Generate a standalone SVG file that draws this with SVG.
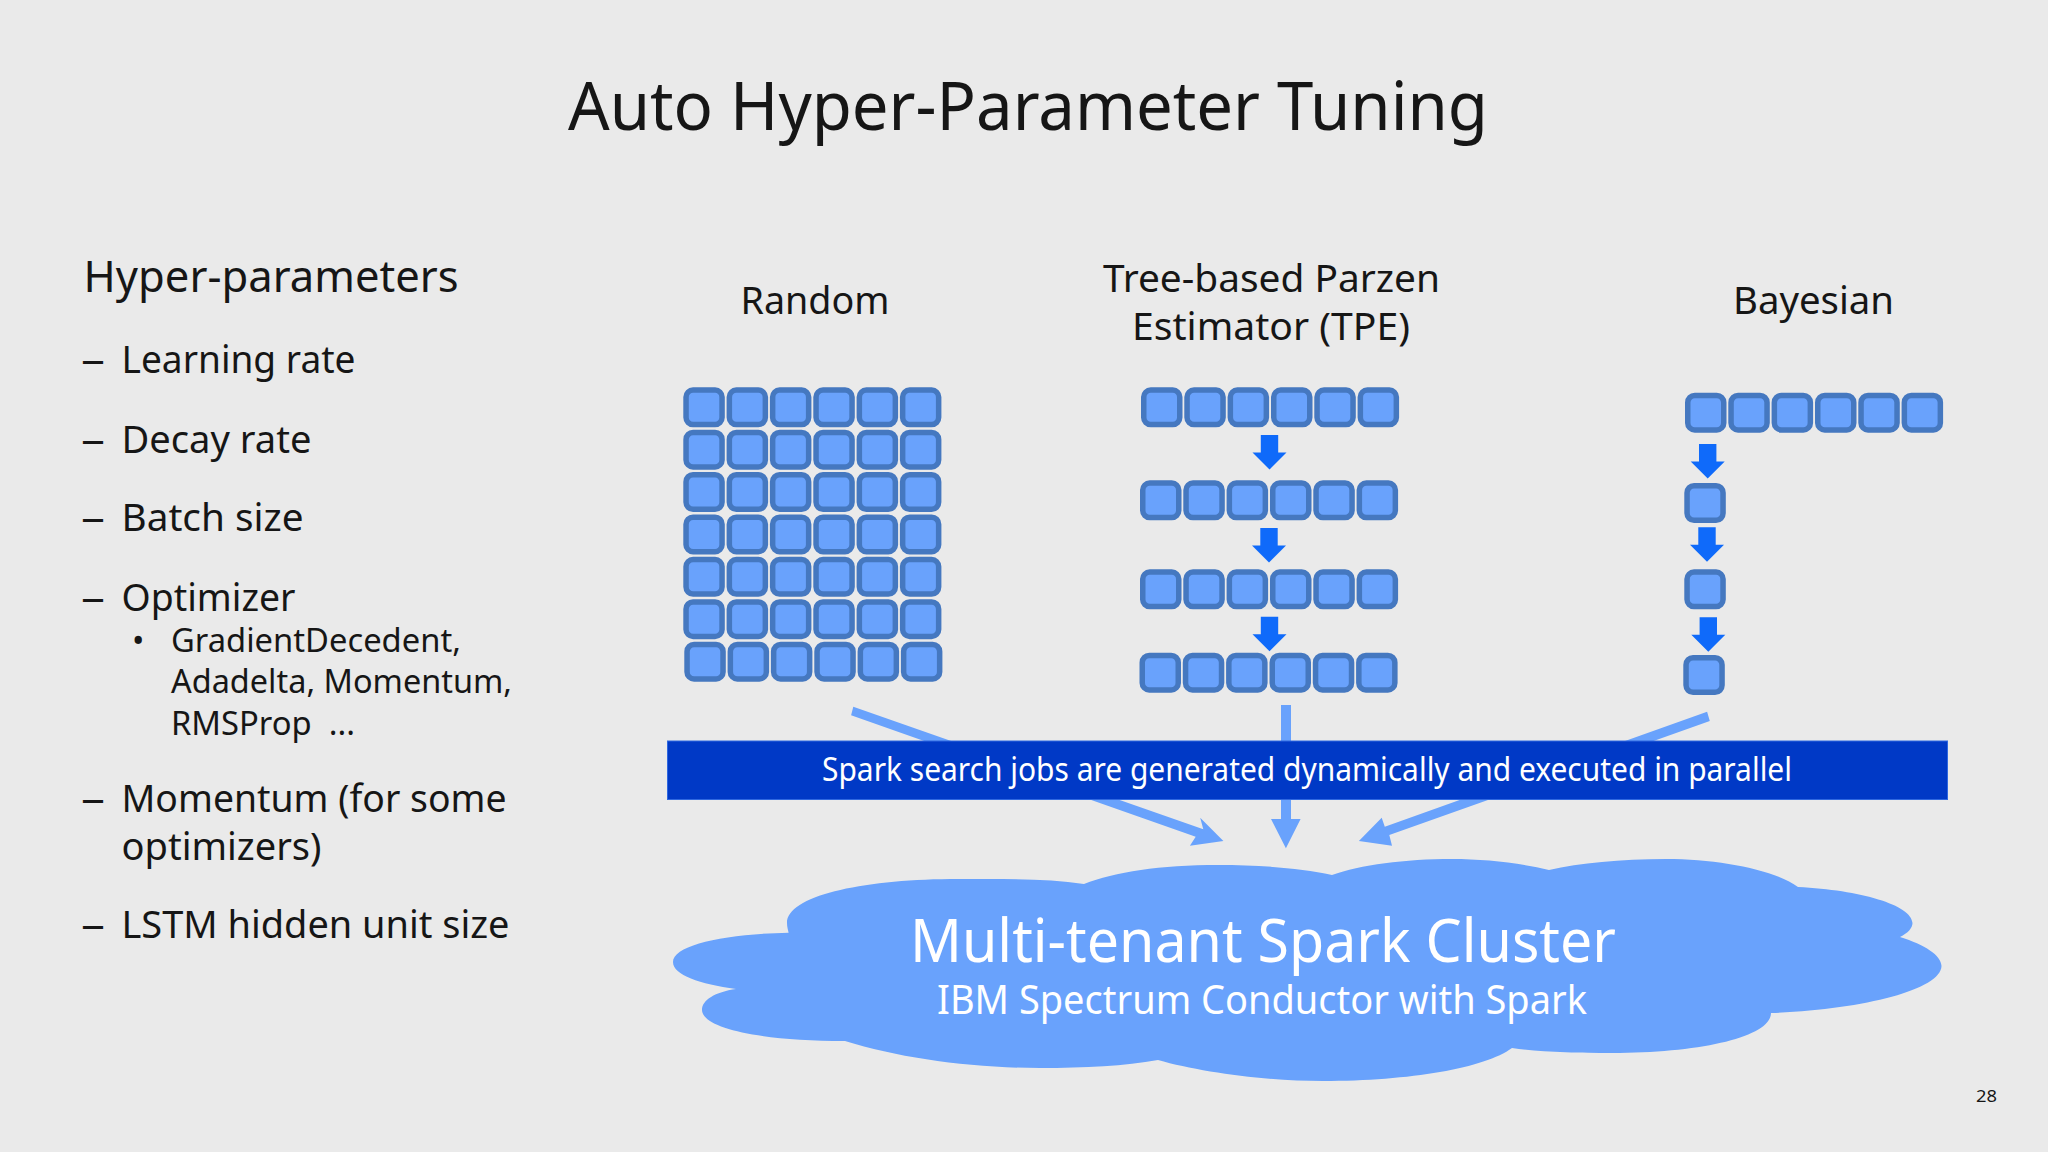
<svg xmlns="http://www.w3.org/2000/svg" xmlns:xlink="http://www.w3.org/1999/xlink" width="2048" height="1152" viewBox="0 0 2048 1152">
<style>
text{font-family:"Noto Sans","Open Sans","Liberation Sans",sans-serif;fill:#161616}
.cell{fill:#69a2fc;stroke:#4578c0;stroke-width:5.5}
.dark{fill:#0f6afa}
.light{fill:#69a2fc}
.w{fill:#fff}
.h{font-size:44px}
.t{font-size:38px}
.s{font-size:33px}
</style>
<defs>
<rect id="cell" class="cell" x="2.75" y="2.75" width="36" height="34.5" rx="7"/>
<g id="row">
<use href="#cell" x="0"/><use href="#cell" x="43.3"/><use href="#cell" x="86.6"/><use href="#cell" x="130"/><use href="#cell" x="173.3"/><use href="#cell" x="216.6"/>
</g>
<polygon id="down" class="dark" points="-8.7,0 8.7,0 8.7,17.5 17,17.5 0,34.5 -17,17.5 -8.7,17.5"/>
</defs>
<rect width="2048" height="1152" fill="#eaeaea"/>
<text id="title" x="568" y="130" font-size="68" textLength="920" lengthAdjust="spacingAndGlyphs">Auto Hyper-Parameter Tuning</text>
<g id="hyper-parameters">
<text class="h" x="83.6" y="292" textLength="375" lengthAdjust="spacingAndGlyphs">Hyper-parameters</text>
<text class="t" x="81" y="373" textLength="24" lengthAdjust="spacingAndGlyphs">–</text>
<text class="t" x="121.5" y="373" textLength="234" lengthAdjust="spacingAndGlyphs">Learning rate</text>
<text class="t" x="81" y="453" textLength="24" lengthAdjust="spacingAndGlyphs">–</text>
<text class="t" x="121.5" y="453" textLength="190" lengthAdjust="spacingAndGlyphs">Decay rate</text>
<text class="t" x="81" y="531" textLength="24" lengthAdjust="spacingAndGlyphs">–</text>
<text class="t" x="121.5" y="531" textLength="182" lengthAdjust="spacingAndGlyphs">Batch size</text>
<text class="t" x="81" y="611" textLength="24" lengthAdjust="spacingAndGlyphs">–</text>
<text class="t" x="121.5" y="611" textLength="174" lengthAdjust="spacingAndGlyphs">Optimizer</text>
<text class="s" x="132" y="652">•</text>
<text class="s" x="171" y="652" textLength="290" lengthAdjust="spacingAndGlyphs">GradientDecedent,</text>
<text class="s" x="171" y="693" textLength="341" lengthAdjust="spacingAndGlyphs">Adadelta, Momentum,</text>
<text class="s" x="171" y="735" textLength="184" lengthAdjust="spacingAndGlyphs" xml:space="preserve">RMSProp  ...</text>
<text class="t" x="81" y="812" textLength="24" lengthAdjust="spacingAndGlyphs">–</text>
<text class="t" x="121.5" y="812" textLength="385" lengthAdjust="spacingAndGlyphs">Momentum (for some</text>
<text class="t" x="121.5" y="860" textLength="200" lengthAdjust="spacingAndGlyphs">optimizers)</text>
<text class="t" x="81" y="938" textLength="24" lengthAdjust="spacingAndGlyphs">–</text>
<text class="t" x="121.5" y="938" textLength="388" lengthAdjust="spacingAndGlyphs">LSTM hidden unit size</text>
</g>
<g id="connectors">
<polygon class="light" points="853.3,706.7 1203.3,829.3 1200.2,817.7 1223.4,841 1189.9,845.7 1195.7,836.7 851.1,715.3"/>
<polygon class="light" points="1281,705 1291,705 1291,819 1300.6,819 1285.9,848.3 1271,819 1281,819"/>
<polygon class="light" points="1707.1,711.7 1384.8,826.7 1381.7,817.7 1358.9,841 1392,845.7 1389.3,835 1709.8,721"/>
<use href="#down" x="1269.5" y="435"/>
<use href="#down" x="1269" y="528"/>
<use href="#down" x="1269.5" y="616.7"/>
<use href="#down" x="1707.7" y="444"/>
<use href="#down" x="1707" y="527.3"/>
<use href="#down" x="1708.3" y="617.3"/>
</g>
<g id="random">
<text class="t" x="740.5" y="314" textLength="149" lengthAdjust="spacingAndGlyphs">Random</text>
<use href="#row" x="683.3" y="387.3"/>
<use href="#row" x="683.3" y="429.7"/>
<use href="#row" x="683.3" y="472"/>
<use href="#row" x="683.3" y="514.4"/>
<use href="#row" x="683.3" y="556.8"/>
<use href="#row" x="683.3" y="599.2"/>
<use href="#row" x="684.3" y="641.7"/>
</g>
<g id="tpe">
<text class="t" x="1103" y="292" textLength="337" lengthAdjust="spacingAndGlyphs">Tree-based Parzen</text>
<text class="t" x="1132" y="340" textLength="278" lengthAdjust="spacingAndGlyphs">Estimator (TPE)</text>
<use href="#row" x="1141" y="387.3"/>
<use href="#row" x="1140" y="480.3"/>
<use href="#row" x="1140" y="569.3"/>
<use href="#row" x="1139.5" y="652.7"/>
</g>
<g id="bayesian">
<text class="t" x="1733" y="314" textLength="161" lengthAdjust="spacingAndGlyphs">Bayesian</text>
<use href="#row" x="1685" y="392.7"/>
<use href="#cell" x="1684.3" y="483"/>
<use href="#cell" x="1684.3" y="569.3"/>
<use href="#cell" x="1683.3" y="655"/>
</g>
<g id="spark-bar">
<rect x="667.5" y="741" width="1280" height="58.5" fill="#0039c6" stroke="#2f68e0" stroke-width="1"/>
<text class="w" x="822" y="781" font-size="32" textLength="970" lengthAdjust="spacingAndGlyphs">Spark search jobs are generated dynamically and executed in parallel</text>
</g>
<g id="cluster">
<path class="light" d="M1084 884C1045 878 1000 879 950 879C860 880 787 896 787 923C787 927 788 930 788.6 932.7C725 934 673 945 673 962C673 975 700 984 736 989C715 992 702 1000 702 1010C702 1028 760 1041 845 1041C900 1058 970 1068 1040 1068C1085 1068 1125 1066 1158 1060C1200 1072 1265 1081 1323 1081C1410 1081 1485 1068 1512 1048C1540 1052 1575 1053 1612 1053C1700 1053 1771 1037 1771 1013C1860 1010 1941 990 1941.5 966C1941 955 1925 945 1900 937C1908 933 1912.5 928 1912.5 923C1912 905 1860 890 1798 887C1775 870 1720 859 1666 859C1620 859 1580 863 1549 870C1520 863 1485 859 1452 859C1405 859 1360 865 1332 875C1300 868 1260 865 1218 865C1160 865 1115 872 1084 884Z"/>
<text class="w" x="910" y="961.7" font-size="60" textLength="706" lengthAdjust="spacingAndGlyphs">Multi-tenant Spark Cluster</text>
<text class="w" x="937" y="1014" font-size="40" textLength="650" lengthAdjust="spacingAndGlyphs">IBM Spectrum Conductor with Spark</text>
</g>
<text id="page" x="1976" y="1102" font-size="16" textLength="21" lengthAdjust="spacingAndGlyphs">28</text>
</svg>
